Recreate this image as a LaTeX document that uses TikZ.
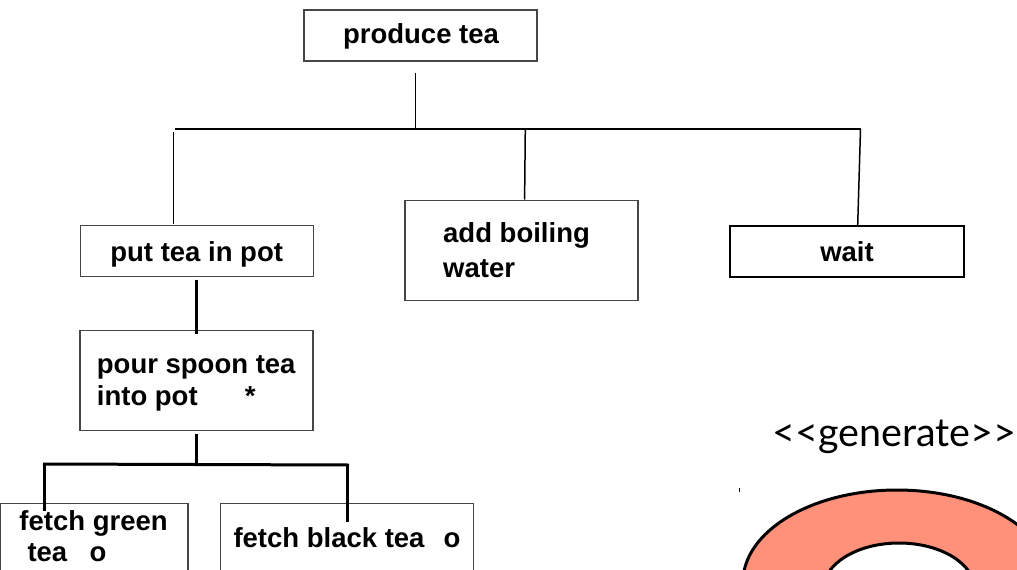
\documentclass[tikz,border=0pt]{standalone}
\usepackage{fontspec}
\setmainfont{Liberation Sans}
\newfontfamily\latofont{Lato}
\definecolor{ringfill}{RGB}{255,144,122}
\definecolor{boxline}{RGB}{70,70,70}
\begin{document}
\begin{tikzpicture}[x=1pt,y=-1pt,
  box/.style={draw=boxline, line width=1.2pt, fill=white, inner sep=0pt},
  lbl/.style={anchor=base west, inner sep=0pt, font=\fontsize{27.5}{34}\selectfont\bfseries},
  tline/.style={line width=1.5pt},
  kline/.style={line width=3pt}]
\useasboundingbox (0,0) rectangle (1017,570);
\begin{scope}
\clip (0,0) rectangle (1017,570);
% boxes
\node[box, minimum width=233pt, minimum height=51pt] (produce) at (420.5,35.5) {};
\node[box, minimum width=233pt, minimum height=51pt] (put) at (196.6,251.2) {};
\node[box, minimum width=233pt, minimum height=100pt] (add) at (521.4,250.6) {};
\node[box, draw=black, line width=2pt, minimum width=234pt, minimum height=51pt] (wait) at (847,251.2) {};
\node[box, minimum width=233pt, minimum height=99.6pt] (pour) at (196.5,380.6) {};
\node[box, minimum width=187.3pt, minimum height=96pt] (green) at (94.35,551.8) {};
\node[box, minimum width=252.6pt, minimum height=96pt] (black) at (347,551.5) {};
% texts
\node[lbl, anchor=base] (tproduce) at (421,43.5) {produce tea};
\node[lbl, anchor=base] (tput) at (196.7,261) {put tea in pot};
\node[lbl, anchor=base] (twait) at (847,261.2) {wait};
\node[lbl] (tadd1) at (443,242.8) {add boiling};
\node[lbl] (tadd2) at (443,277) {water};
\node[lbl] (tpour1) at (96.7,373) {pour spoon tea};
\node[lbl] (tpour2) at (96.7,405.5) {into pot\hspace{47.2pt}*};
\node[lbl] (tgreen1) at (19.3,530) {fetch green};
\node[lbl] (tgreen2) at (27.3,561.7) {tea\hspace{22.3pt}o};
\node[lbl] (tblack) at (233.3,547.3) {fetch black tea\hspace{19pt}o};
\node[anchor=base west, inner sep=0pt, font=\latofont\fontsize{39.5}{46}\selectfont] (gen) at (772,446) {<<generate>>};
% connector points
\coordinate (pa) at (415.7,73);
\coordinate (pb) at (415.7,129);
\coordinate (bl) at (175,129);
\coordinate (br) at (861,129);
\coordinate (d1a) at (173.5,132);
\coordinate (d1b) at (173.5,223.5);
\coordinate (d2a) at (525.3,129);
\coordinate (d2b) at (524.6,199.5);
\coordinate (d3a) at (860.5,129);
\coordinate (d3b) at (857.7,225);
\coordinate (p1a) at (196.5,279.5);
\coordinate (p1b) at (196.5,334.4);
\coordinate (p2a) at (196.5,434.4);
\coordinate (p2b) at (196.5,464);
\coordinate (b2l) at (43,464);
\coordinate (b2r) at (349,465);
\coordinate (g1a) at (44.7,464);
\coordinate (g1b) at (44.7,511);
\coordinate (g2a) at (347.7,465);
\coordinate (g2b) at (347.7,522);
% connectors
\draw[tline] (pa) -- (pb);
\draw[tline] (bl) -- (br);
\draw[tline] (d1a) -- (d1b);
\draw[tline] (d2a) -- (d2b);
\draw[tline] (d3a) -- (d3b);
\draw[kline] (p1a) -- (p1b);
\draw[kline] (p2a) -- (p2b);
\draw[kline] (b2l) -- (b2r);
\draw[kline] (g1a) -- (g1b);
\draw[kline] (g2a) -- (g2b);
% ring
\fill[ringfill, even odd rule] (897,582) ellipse [x radius=154pt, y radius=92pt] (899,590) ellipse [x radius=76pt, y radius=47pt];
\draw[line width=3pt] (897,582) ellipse [x radius=154pt, y radius=92pt];
\draw[line width=3pt] (899,590) ellipse [x radius=76pt, y radius=47pt];
\draw[line width=1pt] (739,488) -- (739,492);
\end{scope}
\end{tikzpicture}
\end{document}
